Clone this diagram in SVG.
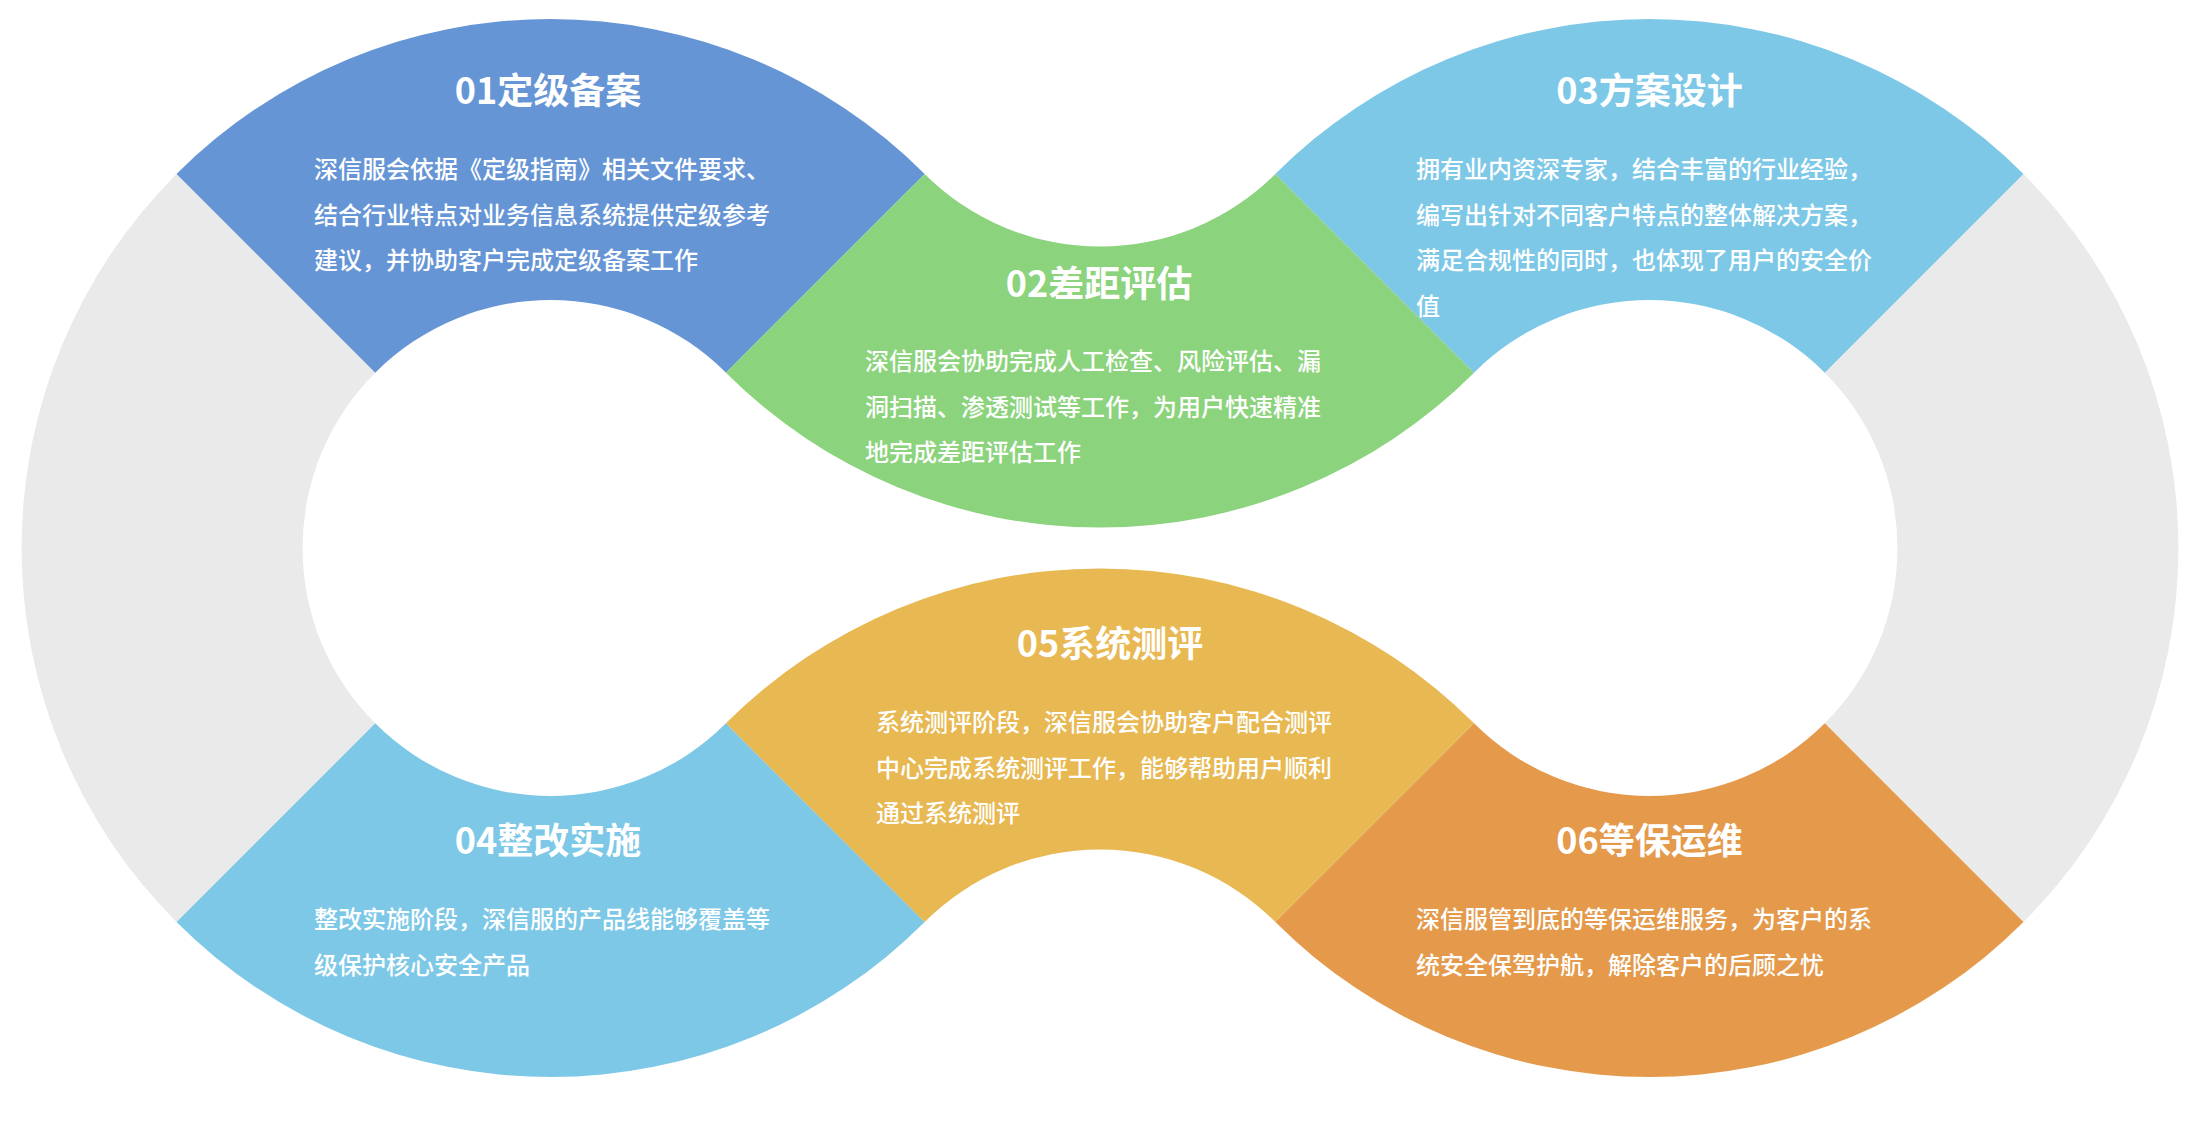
<svg xmlns="http://www.w3.org/2000/svg" width="2200" height="1122" viewBox="0 0 2200 1122">
<style>
.title{font-family:"Noto Sans CJK SC","Noto Sans",sans-serif;font-size:36px;font-weight:700;fill:#ffffff;text-anchor:middle}
.body{font-family:"Noto Sans CJK SC","Noto Sans",sans-serif;font-size:24px;font-weight:500;fill:#ffffff}
.grey{fill:#eaeaea}
</style>
<rect width="2200" height="1122" fill="#ffffff"/>
<g id="ring-decor">
<path class="grey" d="M176.52,922.06 A529,529 0 0 1 176.52,173.94 L375.22,372.64 A248,248 0 0 0 375.22,723.36 Z"/>
<path class="grey" d="M2023.48,173.94 A529,529 0 0 1 2023.48,922.06 L1824.78,723.36 A248,248 0 0 0 1824.78,372.64 Z"/>
</g>
<g id="step01">
<path fill="#6695d6" d="M176.52,173.94 A529,529 0 0 1 924.64,173.94 L725.94,372.64 A248,248 0 0 0 375.22,372.64 Z"/>
<text class="title" x="548" y="104">01定级备案</text>
<text class="body" x="314" y="178">深信服会依据《定级指南》相关文件要求、</text>
<text class="body" x="314" y="223.5">结合行业特点对业务信息系统提供定级参考</text>
<text class="body" x="314" y="269">建议，并协助客户完成定级备案工作</text>
</g>
<g id="step02">
<path fill="#8bd37c" d="M1474.06,372.64 A529,529 0 0 1 725.94,372.64 L924.64,173.94 A248,248 0 0 0 1275.36,173.94 Z"/>
<text class="title" x="1099" y="297">02差距评估</text>
<text class="body" x="865" y="370">深信服会协助完成人工检查、风险评估、漏</text>
<text class="body" x="865" y="415.5">洞扫描、渗透测试等工作，为用户快速精准</text>
<text class="body" x="865" y="461">地完成差距评估工作</text>
</g>
<g id="step03">
<path fill="#7ec8e7" d="M1275.36,173.94 A529,529 0 0 1 2023.48,173.94 L1824.78,372.64 A248,248 0 0 0 1474.06,372.64 Z"/>
<text class="title" x="1649.5" y="104">03方案设计</text>
<text class="body" x="1416" y="178">拥有业内资深专家，结合丰富的行业经验，</text>
<text class="body" x="1416" y="223.5">编写出针对不同客户特点的整体解决方案，</text>
<text class="body" x="1416" y="269">满足合规性的同时，也体现了用户的安全价</text>
<text class="body" x="1416" y="314.5">值</text>
</g>
<g id="step04">
<path fill="#7ec8e7" d="M924.64,922.06 A529,529 0 0 1 176.52,922.06 L375.22,723.36 A248,248 0 0 0 725.94,723.36 Z"/>
<text class="title" x="548" y="853.5">04整改实施</text>
<text class="body" x="314" y="928">整改实施阶段，深信服的产品线能够覆盖等</text>
<text class="body" x="314" y="973.5">级保护核心安全产品</text>
</g>
<g id="step05">
<path fill="#e8b852" d="M725.94,723.36 A529,529 0 0 1 1474.06,723.36 L1275.36,922.06 A248,248 0 0 0 924.64,922.06 Z"/>
<text class="title" x="1110" y="657">05系统测评</text>
<text class="body" x="876" y="731">系统测评阶段，深信服会协助客户配合测评</text>
<text class="body" x="876" y="776.5">中心完成系统测评工作，能够帮助用户顺利</text>
<text class="body" x="876" y="822">通过系统测评</text>
</g>
<g id="step06">
<path fill="#e4994b" d="M2023.48,922.06 A529,529 0 0 1 1275.36,922.06 L1474.06,723.36 A248,248 0 0 0 1824.78,723.36 Z"/>
<text class="title" x="1649.5" y="853.5">06等保运维</text>
<text class="body" x="1416" y="928">深信服管到底的等保运维服务，为客户的系</text>
<text class="body" x="1416" y="973.5">统安全保驾护航，解除客户的后顾之忧</text>
</g>
<g id="connectors"></g>
</svg>
